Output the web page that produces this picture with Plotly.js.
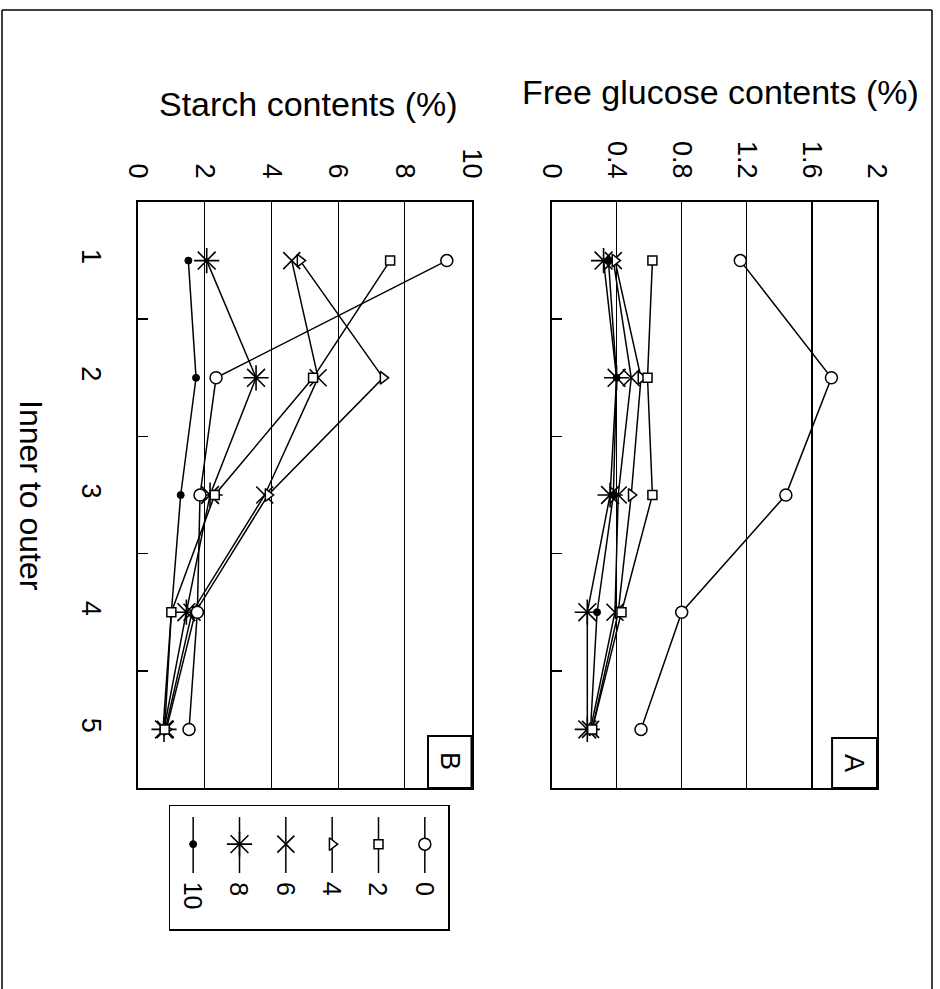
<!DOCTYPE html>
<html>
<head>
<meta charset="utf-8">
<script src="https://cdn.plot.ly/plotly-3.0.1.min.js"></script>
<style>html,body{margin:0;padding:0;background:#fff;}#chart{width:940px;height:989px;}</style>
</head>
<body>
<div id="chart"></div>
<script>
// ---- data ----
var positions = [1, 2, 3, 4, 5];
var positionLabels = ['1', '2', '3', '4', '5'];
var seriesNames = ['0', '2', '4', '6', '8', '10'];

// Free glucose contents (%) - panel A
var glucose0  = [1.16, 1.72, 1.44, 0.80, 0.55];
var glucose2  = [0.62, 0.59, 0.62, 0.43, 0.25];
var glucose4  = [0.39, 0.55, 0.49, 0.41, 0.25];
var glucose6  = [0.38, 0.49, 0.41, 0.39, 0.24];
var glucose8  = [0.32, 0.40, 0.36, 0.22, 0.22];
var glucose10 = [0.35, 0.40, 0.38, 0.28, 0.24];

// Starch contents (%) - panel B
var starch0  = [9.26, 2.34, 1.86, 1.78, 1.53];
var starch2  = [7.56, 5.25, 2.30, 1.00, 0.80];
var starch4  = [4.86, 7.35, 3.90, 1.72, 0.85];
var starch6  = [4.61, 5.40, 3.80, 1.62, 0.82];
var starch8  = [2.06, 3.54, 2.16, 1.45, 0.78];
var starch10 = [1.51, 1.74, 1.28, 1.00, 0.75];

var glucoseTicks = [0, 0.4, 0.8, 1.2, 1.6, 2];
var glucoseTickText = ['0', '0.4', '0.8', '1.2', '1.6', '2'];
var starchTicks = [0, 2, 4, 6, 8, 10];
var starchTickText = ['0', '2', '4', '6', '8', '10'];

// ---- styles ----
var FONT = 'Liberation Sans, Arial, sans-serif';
var styles = [
  {symbol: 'circle', size: 12, color: 'white', lw: 1.5},
  {symbol: 'square', size: 9, color: 'white', lw: 1.5},
  {symbol: 'triangle-right', size: 11, color: 'white', lw: 1.5},
  {symbol: 'x-thin-open', size: 17, color: 'black', lw: 1.6},
  {symbol: 'asterisk-open', size: 21, color: 'black', lw: 1.6},
  {symbol: 'circle', size: 7, color: 'black', lw: 1}
];
var glucoseSeries = [glucose0, glucose2, glucose4, glucose6, glucose8, glucose10];
var starchSeries = [starch0, starch2, starch4, starch6, starch8, starch10];

function mk(vals, i, xa, ya) {
  var s = styles[i];
  return {
    type: 'scatter', mode: 'lines+markers',
    x: vals, y: positions, xaxis: xa, yaxis: ya,
    name: seriesNames[i], showlegend: false, cliponaxis: false,
    line: {color: 'black', width: 1.5},
    marker: {symbol: s.symbol, size: s.size, color: s.color,
             line: {color: 'black', width: s.lw}}
  };
}
var traces = [];
for (var i = seriesNames.length - 1; i >= 0; i--) {
  traces.push(mk(starchSeries[i], i, 'x', 'y'));
  traces.push(mk(glucoseSeries[i], i, 'x2', 'y2'));
}
// legend samples (rotated legend drawn in its own small axes)
var legendAnn = [];
for (var j = 0; j < seriesNames.length; j++) {
  var col = seriesNames.length - 1 - j; // '0' at the right
  var s = styles[j];
  traces.push({
    type: 'scatter', mode: 'lines', xaxis: 'x3', yaxis: 'y3', showlegend: false,
    x: [col, col], y: [0.09, 0.545], line: {color: 'black', width: 1.5}
  });
  traces.push({
    type: 'scatter', mode: 'markers', xaxis: 'x3', yaxis: 'y3', showlegend: false,
    x: [col], y: [0.31],
    marker: {symbol: s.symbol, size: s.size, color: s.color, line: {color: 'black', width: s.lw}}
  });
  legendAnn.push({
    xref: 'x3', yref: 'y3', x: col, y: 0.6, text: seriesNames[j],
    textangle: 90, showarrow: false, xanchor: 'center', yanchor: 'top',
    font: {family: FONT, size: 25, color: 'black'}
  });
}

var yDom = [1 - 788 / 989, 1 - 202 / 989];
var catAxis = {
  domain: yDom, range: [5.5, 0.5], tickmode: 'array', tickvals: positions, ticktext: positionLabels,
  tickangle: 90, showgrid: false, zeroline: false, showline: true, mirror: true,
  linecolor: 'black', linewidth: 2, ticks: '',
  tickfont: {family: FONT, size: 27, color: 'black'},
  minor: {tickmode: 'array', tickvals: [1.5, 2.5, 3.5, 4.5], ticks: 'inside', ticklen: 10,
          tickcolor: 'black', tickwidth: 1.5, showgrid: false}
};
function valAxis(dom, range, tv, tt, anchor) {
  return {
    domain: dom, anchor: anchor, range: range, side: 'top', tickmode: 'array',
    tickvals: tv, ticktext: tt, tickangle: 90, showgrid: true, gridcolor: 'black', gridwidth: 1.2,
    zeroline: false, showline: true, mirror: true, linecolor: 'black', linewidth: 2, ticks: '',
    tickfont: {family: FONT, size: 27, color: 'black'}, ticklabelstandoff: 12
  };
}

var layout = {
  width: 940, height: 989, margin: {l: 0, r: 0, t: 0, b: 0},
  paper_bgcolor: 'white', plot_bgcolor: 'white', showlegend: false,
  font: {family: FONT, color: 'black'},
  xaxis: valAxis([138 / 940, 471.5 / 940], [0, 10], starchTicks, starchTickText, 'y'),
  yaxis: Object.assign({}, catAxis, {anchor: 'x', ticklabelstandoff: 22}),
  xaxis2: valAxis([551.5 / 940, 877 / 940], [0, 2], glucoseTicks, glucoseTickText, 'y2'),
  yaxis2: Object.assign({}, catAxis, {anchor: 'x2', showticklabels: false}),
  xaxis3: {domain: [170 / 940, 448 / 940], anchor: 'y3', range: [-0.5, 5.5], showgrid: false,
           zeroline: false, showticklabels: false, ticks: '', showline: true, mirror: true,
           linecolor: 'black', linewidth: 1.5},
  yaxis3: {domain: [1 - 929 / 989, 1 - 806 / 989], anchor: 'x3', range: [1, 0], showgrid: false,
           zeroline: false, showticklabels: false, ticks: '', showline: true, mirror: true,
           linecolor: 'black', linewidth: 1.5},
  annotations: [
    {xref: 'paper', yref: 'paper', x: 720 / 940, y: 1 - 92 / 989, text: 'Free glucose contents (%)',
     showarrow: false, xanchor: 'center', yanchor: 'middle', font: {family: FONT, size: 34, color: 'black'}},
    {xref: 'paper', yref: 'paper', x: 308 / 940, y: 1 - 104 / 989, text: 'Starch contents (%)',
     showarrow: false, xanchor: 'center', yanchor: 'middle', font: {family: FONT, size: 34, color: 'black'}},
    {xref: 'paper', yref: 'paper', x: 31 / 940, y: 1 - 495 / 989, text: 'Inner to outer', textangle: 90,
     showarrow: false, xanchor: 'center', yanchor: 'middle', font: {family: FONT, size: 32, color: 'black'}},
    {xref: 'paper', yref: 'paper', x: 854 / 940, y: 1 - 763 / 989, text: 'A', textangle: 90,
     showarrow: false, xanchor: 'center', yanchor: 'middle', font: {family: FONT, size: 27, color: 'black'}},
    {xref: 'paper', yref: 'paper', x: 450 / 940, y: 1 - 761 / 989, text: 'B', textangle: 90,
     showarrow: false, xanchor: 'center', yanchor: 'middle', font: {family: FONT, size: 27, color: 'black'}}
  ].concat(legendAnn),
  shapes: [
    {type: 'rect', xref: 'x2 domain', yref: 'y2 domain', x0: 0.862, x1: 1, y0: 0, y1: 0.0853,
     line: {color: 'black', width: 2}},
    {type: 'rect', xref: 'x domain', yref: 'y domain', x0: 0.8696, x1: 1, y0: 0, y1: 0.0887,
     line: {color: 'black', width: 2}},
    {type: 'line', xref: 'paper', yref: 'paper', x0: 2 / 940, x1: 932 / 940, y0: 1 - 10 / 989, y1: 1 - 10 / 989,
     line: {color: 'black', width: 1.5}},
    {type: 'line', xref: 'paper', yref: 'paper', x0: 932 / 940, x1: 932 / 940, y0: 1 - 10 / 989, y1: 0,
     line: {color: 'black', width: 1.5}},
    {type: 'line', xref: 'paper', yref: 'paper', x0: 2 / 940, x1: 2 / 940, y0: 1 - 10 / 989, y1: 0,
     line: {color: 'black', width: 1.5}}
  ]
};

Plotly.newPlot('chart', traces, layout, {staticPlot: true, displayModeBar: false});
</script>
</body>
</html>
